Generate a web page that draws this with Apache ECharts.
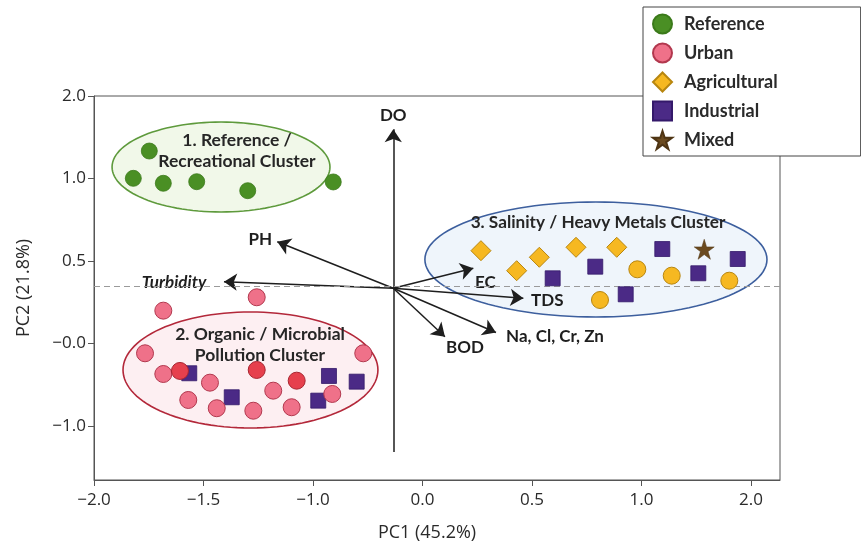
<!DOCTYPE html>
<html><head><meta charset="utf-8">
<script src="https://cdn.jsdelivr.net/npm/echarts@6/dist/echarts.min.js"></script>
<style>html,body{margin:0;padding:0;background:#fff}#c{width:861px;height:546px}</style>
</head><body><div id="c"></div>
<script>
// Tick labels (ticks are equally spaced; value i = i-th tick)
const xTickLabels = ['\u22122.0','\u22121.5','\u22121.0','0.0','0.5','1.0','2.0'];
const yTickLabels = ['\u22121.0','\u22120.0','0.5','1.0','2.0'];

// Sample scores (in tick-step units of the axes)
const refX = [0.505,0.359,0.633,0.938,1.404,2.185];
const refY = [3.333,3.002,2.942,2.961,2.852,2.958];

const urbanX = [1.486,0.633,0.466,2.459,0.633,1.059,1.637,0.861,1.121,1.455,1.805,2.176,0.785,1.486,1.851];
const urbanY = [1.560,1.398,0.881,0.881,0.630,0.525,0.428,0.315,0.215,0.185,0.227,0.388,0.667,0.679,0.549];
const urbanShade = [0,0,0,0,0,0,0,0,0,0,0,0,1,1,1];

const indX = [0.870,1.258,2.146,2.399,2.048,4.189,4.578,5.190,5.519,4.856,5.879];
const indY = [0.639,0.348,0.606,0.537,0.307,1.790,1.931,2.145,1.851,1.596,2.024];

const agriX = [3.534,3.860,4.067,4.402,4.774,4.962,5.276,4.621,5.802];
const agriY = [2.125,1.882,2.045,2.166,2.166,1.899,1.822,1.527,1.761];
const agriShape = ['diamond','diamond','diamond','diamond','diamond','circle','circle','circle','circle'];

const mixedX = [5.573];
const mixedY = [2.142];

// Loading vectors
const loadNames = ['DO','PH','Turbidity','EC','TDS','Na, Cl, Cr, Zn','BOD'];
const loadX = [2.733,1.674,1.187,3.464,3.921,3.671,3.205];
const loadY = [3.596,2.234,1.749,1.912,1.548,1.133,1.082];
const loadOrigin = [2.733,1.669];
const doTailY = -0.315;
const refLineY = 1.688;

// Cluster ellipses
const clusterNames = ['1. Reference /\nRecreational Cluster','2. Organic / Microbial\nPollution Cluster','3. Salinity / Heavy Metals Cluster'];
const clusterCX = [1.160,1.429,4.584];
const clusterCY = [3.139,0.679,2.018];
const clusterRX = [0.995,1.164,1.562];
const clusterRY = [0.545,0.703,0.697];
const clusterLabelX = [1.306,1.516,4.603];
const clusterLabelY = [3.333,0.982,2.461];

// ---- styles ----
const FONT = '"Open Sans", "Noto Sans", sans-serif';
const BFONT = 'Lato, "Open Sans", sans-serif';
const ellStroke = ['#5e9a3c','#b3283a','#3d5f9e'];
const ellFill = ['rgba(236,246,226,0.75)','rgba(252,234,238,0.75)','rgba(234,241,250,0.75)'];
const clusterFontSize = [17.5, 17.5, 17.2];
const labelOffsets = [[0,-14],[-17,-2],[-50,1],[12,14],[24,2],[59,4],[20,11]];

const zip = (xs, ys) => xs.map((x,i)=>[x, ys[i]]);

const ellipseData = clusterCX.map((cx,i)=>[cx, clusterCY[i], clusterRX[i], clusterRY[i], clusterLabelX[i], clusterLabelY[i], i]);

const arrowLines = loadNames.map((n,i)=>({
  coords: [[loadOrigin[0], i===0 ? doTailY : loadOrigin[1]], [loadX[i], loadY[i]]]
}));

const chart = echarts.init(document.getElementById('c'), null, {renderer:'canvas'});
chart.setOption({
  animation: false,
  backgroundColor: '#fff',
  textStyle: {fontFamily: FONT},
  grid: {left: 94, top: 96, right: 81, bottom: 66, show: true, borderColor: '#555', borderWidth: 1,
    backgroundColor: 'transparent', containLabel: false, outerBoundsMode: 'none'},
  xAxis: {
    type: 'value', min: 0, max: 6.265,
    name: 'PC1 (45.2%)', nameLocation: 'middle', nameGap: 44,
    nameTextStyle: {fontSize: 18, color: '#2a2a2a', fontFamily: FONT, padding: [0,20,0,0]},
    axisLine: {show: true, onZero: false, lineStyle: {color: '#555', width: 1}},
    axisTick: {show: true, customValues: xTickLabels.map((_,i)=>i), length: 6, lineStyle: {color: '#555'}},
    axisLabel: {customValues: xTickLabels.map((_,i)=>i), formatter: v => xTickLabels[Math.round(v)], fontSize: 17, color: '#2a2a2a', margin: 12, fontFamily: FONT},
    splitLine: {show: false}
  },
  yAxis: {
    type: 'value', min: -0.655, max: 4,
    name: 'PC2 (21.8%)', nameLocation: 'middle', nameGap: 61,
    nameTextStyle: {fontSize: 18, color: '#2a2a2a', fontFamily: FONT},
    axisLine: {show: true, onZero: false, lineStyle: {color: '#555', width: 1}},
    axisTick: {show: true, customValues: yTickLabels.map((_,i)=>i), length: 6, lineStyle: {color: '#555'}},
    axisLabel: {customValues: yTickLabels.map((_,i)=>i), formatter: v => yTickLabels[Math.round(v)], fontSize: 17, color: '#2a2a2a', margin: 8, fontFamily: FONT},
    splitLine: {show: false}
  },
  legend: {
    orient: 'vertical', left: 643, top: 7,
    data: ['Reference','Urban','Agricultural','Industrial','Mixed'],
    itemWidth: 19, itemHeight: 19, itemGap: 7,
    padding: [6, 83, 5, 9],
    backgroundColor: '#fff', borderColor: '#444', borderWidth: 1,
    textStyle: {fontSize: 18, color: '#2a2a2a', fontWeight: 'bold', fontFamily: BFONT, padding: [0,0,0,7], lineHeight: 22}
  },
  series: [
    {
      type: 'custom', name: 'clusters', z: 1, silent: true,
      data: ellipseData,
      encode: {x: 0, y: 1},
      renderItem: (params, api) => {
        const c = api.coord([api.value(0), api.value(1)]);
        const s = api.size([api.value(2), api.value(3)]);
        const k = api.value(6);
        const pts = [];
        for (let t = 0; t < 120; t++) {
          const a = t / 120 * Math.PI * 2;
          pts.push([c[0] + s[0]*Math.cos(a), c[1] + s[1]*Math.sin(a)]);
        }
        const lp = api.coord([api.value(4), api.value(5)]);
        return {
          type: 'group',
          children: [
            {type: 'polygon', shape: {points: pts}, style: {fill: ellFill[k], stroke: ellStroke[k], lineWidth: 1.6}},
            {type: 'text', x: lp[0], y: lp[1], style: {text: clusterNames[k], fill: '#262626', font: 'bold ' + clusterFontSize[k] + 'px ' + BFONT, align: 'center', verticalAlign: 'middle', lineHeight: 21}}
          ]
        };
      }
    },
    {
      type: 'lines', name: 'loadings', coordinateSystem: 'cartesian2d', z: 3, silent: true,
      symbol: ['none','arrow'], symbolSize: 13,
      lineStyle: {color: '#1e1e1e', width: 1.5, opacity: 1},
      data: arrowLines,
      markLine: {
        silent: true, symbol: ['none','none'], label: {show: false},
        lineStyle: {color: '#9a9a9a', type: [6,4], width: 1},
        data: [{yAxis: refLineY}]
      }
    },
    {
      type: 'custom', name: 'loadingLabels', z: 4, silent: true,
      data: zip(loadX, loadY).map((p,i)=>[p[0], p[1], i]),
      encode: {x: 0, y: 1},
      renderItem: (params, api) => {
        const p = api.coord([api.value(0), api.value(1)]);
        const i = api.value(2);
        const n = loadNames[i];
        return {
          type: 'text', x: p[0] + labelOffsets[i][0], y: p[1] + labelOffsets[i][1],
          style: {text: n, fill: '#1e1e1e', align: 'center', verticalAlign: 'middle',
            font: (n === 'Turbidity' ? 'italic ' : '') + 'bold 17px ' + BFONT}
        };
      }
    },
    {
      type: 'scatter', name: 'Reference', z: 5, symbol: 'circle', symbolSize: 16,
      itemStyle: {color: '#4a8f24', borderColor: '#3b7a1a', borderWidth: 0.8, opacity: 1},
      data: zip(refX, refY)
    },
    {
      type: 'scatter', name: 'Industrial', z: 5, symbol: 'rect', symbolSize: 15,
      itemStyle: {color: '#4b2a86', borderColor: '#34196a', borderWidth: 0.8, opacity: 1},
      data: zip(indX, indY)
    },
    {
      type: 'scatter', name: 'Urban', z: 6, symbol: 'circle', symbolSize: 17,
      itemStyle: {color: '#ef7189', borderColor: '#b2384e', borderWidth: 1, opacity: 1},
      data: urbanX.map((x,i)=>({value: [x, urbanY[i]],
        itemStyle: urbanShade[i] ? {color: '#e6404d', borderColor: '#a82631'} : undefined}))
    },
    {
      type: 'scatter', name: 'Agricultural', z: 5, symbol: 'diamond', symbolSize: 20,
      itemStyle: {color: '#f6b821', borderColor: '#b8860f', borderWidth: 1, opacity: 1},
      data: agriX.map((x,i)=>({value: [x, agriY[i]], symbol: agriShape[i], symbolSize: agriShape[i]==='circle' ? 17 : 20}))
    },
    {
      type: 'scatter', name: 'Mixed', z: 5,
      symbol: 'path://M50,0 L61.2,34.5 L97.6,34.5 L68.2,55.9 L79.4,90.5 L50,69.1 L20.6,90.5 L31.8,55.9 L2.4,34.5 L38.8,34.5 Z',
      symbolSize: 20,
      itemStyle: {color: '#6b4a1f', borderColor: '#4e3413', borderWidth: 0.5, opacity: 1},
      data: zip(mixedX, mixedY)
    }
  ]
});
</script></body></html>
